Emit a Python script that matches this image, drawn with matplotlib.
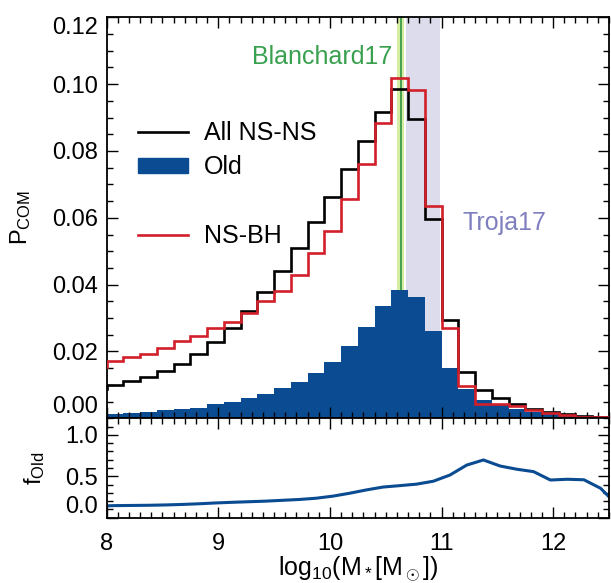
import matplotlib
matplotlib.use('Agg')
import matplotlib.pyplot as plt
import numpy as np
from matplotlib.lines import Line2D
from matplotlib.patches import Patch
from matplotlib.ticker import MultipleLocator

plt.rcParams['font.family'] = ['Liberation Sans', 'DejaVu Sans']
plt.rcParams['mathtext.fontset'] = 'custom'
plt.rcParams['mathtext.rm'] = 'Liberation Sans'
plt.rcParams['mathtext.it'] = 'Liberation Sans:italic'

# 0.15 dex bins, first one (7.85-8.0) only shows as the step at the left edge
edges = np.round(np.arange(7.85, 12.5001, 0.15), 3)

p_all_nsns = [0.0088, 0.0101, 0.0112, 0.0125, 0.0143, 0.0164, 0.0191, 0.0227,
              0.0270, 0.0321, 0.0379, 0.0442, 0.0510, 0.0587, 0.0662, 0.0747,
              0.0829, 0.0917, 0.0984, 0.0895, 0.0597, 0.0294, 0.0139, 0.0084,
              0.0062, 0.0043, 0.0028, 0.0020, 0.0013, 0.0008, 0.0005]
p_nsbh = [0.0155, 0.0172, 0.0182, 0.0193, 0.0210, 0.0230, 0.0247, 0.0270,
          0.0289, 0.0315, 0.0350, 0.0382, 0.0430, 0.0494, 0.0560, 0.0657,
          0.0762, 0.0885, 0.1017, 0.0982, 0.0635, 0.0271, 0.0097, 0.0044,
          0.0043, 0.0036, 0.0025, 0.0016, 0.0009, 0.0005, 0.0005]
p_old = [0.0012, 0.0014, 0.0017, 0.0020, 0.0025, 0.0028, 0.0032, 0.0042,
         0.0050, 0.0062, 0.0074, 0.0092, 0.0109, 0.0136, 0.0169, 0.0215,
         0.0272, 0.0337, 0.0385, 0.0364, 0.0262, 0.0150, 0.0089, 0.0055,
         0.0040, 0.0029, 0.0020, 0.0013, 0.0008, 0.0005, 0.0003]

# old fraction, sampled at bin centres
f_x = np.round(np.arange(7.925, 12.6, 0.15), 3)
f_old = [0.140, 0.146, 0.148, 0.150, 0.154, 0.160, 0.168, 0.178, 0.186, 0.193,
         0.200, 0.210, 0.220, 0.235, 0.260, 0.295, 0.335, 0.370, 0.387, 0.405,
         0.440, 0.515, 0.635, 0.697, 0.624, 0.585, 0.556, 0.455, 0.464, 0.458,
         0.355, 0.150]

blanchard = 10.635
blanchard_band = (10.605, 10.665)
troja_band = (10.68, 10.99)

blue = '#0a4b91'
red = '#d2202a'

fig = plt.figure(figsize=(6.11, 5.83), dpi=100)
ax1 = fig.add_axes([0.1746, 0.2825, 0.8221, 0.6878])
ax2 = fig.add_axes([0.1746, 0.1120, 0.8221, 0.1705], sharex=ax1)

ax1.axvspan(*troja_band, color='#dcdcec', lw=0, zorder=0)
ax1.axvspan(*blanchard_band, color='#d5eda0', lw=0, zorder=0)
ax1.axvline(blanchard, color='#3a9a4a', lw=1.3, zorder=0.5)

ax1.stairs(p_old, edges, fill=True, color=blue, lw=0, zorder=1)
ax1.stairs(p_all_nsns, edges, color='black', lw=1.9, zorder=2)
ax1.stairs(p_nsbh, edges, color=red, lw=1.9, zorder=3)

ax1.text(10.56, 0.108, 'Blanchard17', color='#39a04f', fontsize=18,
         ha='right', va='center')
ax1.text(11.19, 0.0583, 'Troja17', color='#7f7fc0', fontsize=18,
         ha='left', va='center')

handles = [Line2D([], [], color='black', lw=1.9),
           Patch(color=blue),
           Line2D([], [], color='none'),
           Line2D([], [], color=red, lw=1.9)]
ax1.legend(handles, ['All NS-NS', 'Old', ' ', 'NS-BH'], loc='upper left',
           bbox_to_anchor=(0.062, 0.742), frameon=False, fontsize=18,
           handlelength=2.0, handleheight=0.5, handletextpad=0.64,
           labelspacing=0.42, borderpad=0, borderaxespad=0)

ax2.plot(f_x, f_old, color=blue, lw=2.2)

ax1.set_xlim(8, 12.5)
ax1.set_ylim(0, 0.12)
ax2.set_ylim(0, 1.2)

ax1.set_yticks([0, 0.02, 0.04, 0.06, 0.08, 0.10, 0.12])
ax1.set_yticklabels(['0.00', '0.02', '0.04', '0.06', '0.08', '0.10', '0.12'])
ax1.yaxis.set_minor_locator(MultipleLocator(0.005))
ax2.set_yticks([0, 0.5, 1.0])
ax2.set_yticklabels(['0.0', '0.5', '1.0'])
ax2.yaxis.set_minor_locator(MultipleLocator(0.1))
ax2.set_xticks([8, 9, 10, 11, 12])
ax2.xaxis.set_minor_locator(MultipleLocator(0.1))

for ax in (ax1, ax2):
    ax.tick_params(which='both', direction='in', top=True, right=True,
                   labelsize=17, width=1.0)
    ax.tick_params(which='major', length=8)
    ax.tick_params(which='minor', length=4)
    ax.tick_params(axis='y', pad=6)
    ax.tick_params(axis='x', pad=11)
    for s in ax.spines.values():
        s.set_linewidth(1.3)
ax1.tick_params(axis='x', labelbottom=False)

# end labels pushed inside the panel, as in the original
t1 = ax1.yaxis.get_major_ticks()
t1[0].label1.set_va('bottom')
t1[-1].label1.set_va('top')
ax2.yaxis.get_major_ticks()[0].label1.set_va('bottom')

ax1.set_ylabel('P$_{\\rm COM}$', fontsize=17)
ax1.yaxis.set_label_coords(-0.147, 0.5)
ax2.set_ylabel('f$_{\\rm Old}$', fontsize=17)
ax2.yaxis.set_label_coords(-0.119, 0.5)
ax2.set_xlabel('log$_{\\rm 10}$(M$_*$[M$_\\odot$])', fontsize=18)
ax2.xaxis.set_label_coords(0.5, -0.37)

fig.savefig('out.png', dpi=100)
